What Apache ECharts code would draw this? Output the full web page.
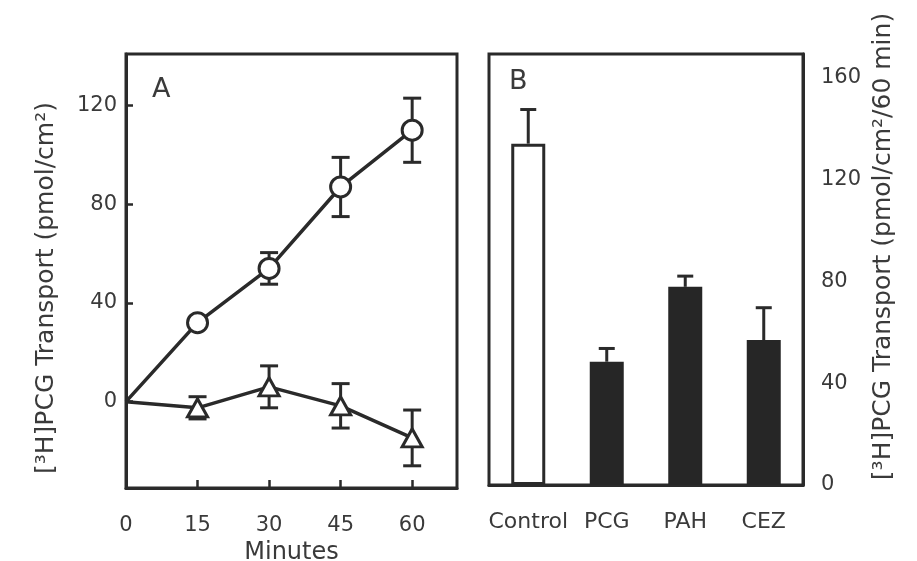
<!DOCTYPE html>
<html>
<head>
<meta charset="utf-8">
<script src="https://cdn.jsdelivr.net/npm/echarts@6/dist/echarts.min.js"></script>
<style>
  html, body { margin: 0; padding: 0; background: #fff; }
  #chart { width: 917px; height: 561px; }
</style>
</head>
<body>
<div id="chart"></div>
<script>
// panel A: time course
const minutes = [0, 15, 30, 45, 60];
const controlMean = [0, 32, 54, 87, 110];
const controlErr = [0, 2, 6.4, 12, 13];
const inhibMean = [0, -2.5, 6, -1.7, -14.7];
const inhibErr = [0, 4.5, 8.5, 9, 11.3];
const aTicksY = [0, 40, 80, 120];
const aTicksX = [0, 15, 30, 45, 60];

// panel B: 60 min transport
const groups = ['Control', 'PCG', 'PAH', 'CEZ'];
const groupMean = [134, 48.4, 77.8, 56.9];
const groupErr = [13.4, 5.2, 4.2, 12.7];

const ink = '#2a2a2a';
const txt = '#3a3a3a';
const font = 'DejaVu Sans';

function lineData(mean) {
  return minutes.map((m, i) => i === 0 ? { value: [m, mean[i]], symbol: 'none' } : [m, mean[i]]);
}
function errData(mean, err) {
  return minutes.map((m, i) => [m, mean[i] - err[i], mean[i] + err[i]]).filter((d, i) => i > 0);
}

function renderErrA(params, api) {
  const x = api.value(0);
  const lo = api.coord([x, api.value(1)]);
  const hi = api.coord([x, api.value(2)]);
  const hw = 9;
  const style = { stroke: ink, lineWidth: 3 };
  return {
    type: 'group',
    children: [
      { type: 'line', shape: { x1: lo[0], y1: lo[1], x2: hi[0], y2: hi[1] }, style: style },
      { type: 'line', shape: { x1: lo[0] - hw, y1: lo[1], x2: lo[0] + hw, y2: lo[1] }, style: style },
      { type: 'line', shape: { x1: hi[0] - hw, y1: hi[1], x2: hi[0] + hw, y2: hi[1] }, style: style }
    ]
  };
}

function renderErrB(params, api) {
  const idx = api.value(0);
  const base = api.coord([idx, api.value(1)]);
  const top = api.coord([idx, api.value(2)]);
  const hw = 8;
  const style = { stroke: ink, lineWidth: 3 };
  return {
    type: 'group',
    children: [
      { type: 'line', shape: { x1: base[0], y1: base[1], x2: top[0], y2: top[1] }, style: style },
      { type: 'line', shape: { x1: top[0] - hw, y1: top[1], x2: top[0] + hw, y2: top[1] }, style: style }
    ]
  };
}

const chart = echarts.init(document.getElementById('chart'));

const option = {
  backgroundColor: '#fff',
  animation: false,
  textStyle: { fontFamily: font, color: txt },
  graphic: [
    { type: 'text', left: 152, top: 76, style: { text: 'A', fontSize: 27, fontFamily: font, fill: txt } },
    { type: 'text', left: 509, top: 68, style: { text: 'B', fontSize: 27, fontFamily: font, fill: txt } }
  ],
  grid: [
    { left: 126, top: 54, width: 331, height: 434, outerBoundsMode: 'none', show: true, borderColor: ink, borderWidth: 3, backgroundColor: 'transparent' },
    { left: 489, top: 54, width: 314, height: 431, outerBoundsMode: 'none', show: true, borderColor: ink, borderWidth: 3, backgroundColor: 'transparent' }
  ],
  xAxis: [
    {
      gridIndex: 0, type: 'value', min: 0, max: 69.4,
      name: 'Minutes', nameLocation: 'middle', nameGap: 50,
      nameTextStyle: { fontSize: 24, fontFamily: font, color: txt },
      axisLine: { onZero: false, lineStyle: { color: ink, width: 3 } },
      axisTick: { inside: true, length: 8, lineStyle: { color: ink, width: 2.5 }, customValues: [15, 30, 45, 60] },
      axisLabel: { margin: 27, fontSize: 21, color: txt, customValues: aTicksX },
      splitLine: { show: false }
    },
    {
      gridIndex: 1, type: 'category', data: groups,
      axisLine: { onZero: false, lineStyle: { color: ink, width: 3 } },
      axisTick: { show: false },
      axisLabel: { margin: 26, fontSize: 22, color: txt, interval: 0 }
    }
  ],
  yAxis: [
    {
      gridIndex: 0, type: 'value', min: -35, max: 140.9,
      name: '[³H]PCG Transport (pmol/cm²)', nameLocation: 'middle', nameGap: 67, nameRotate: 90,
      nameTextStyle: { fontSize: 25, fontFamily: font, color: txt, padding: [0, 34, 0, 0] },
      axisLine: { show: true, onZero: false, lineStyle: { color: ink, width: 3 } },
      axisTick: { inside: true, length: 7, lineStyle: { color: ink, width: 2.5 }, customValues: aTicksY },
      axisLabel: { margin: 9, fontSize: 21, color: txt, customValues: aTicksY },
      splitLine: { show: false }
    },
    {
      gridIndex: 1, type: 'value', position: 'right', min: 0, max: 169.2, interval: 40,
      name: '[³H]PCG Transport (pmol/cm²/60 min)', nameLocation: 'middle', nameGap: 68, nameRotate: 90,
      nameTextStyle: { fontSize: 25, fontFamily: font, color: txt, padding: [0, 0, 0, 46] },
      axisLine: { show: true, onZero: false, lineStyle: { color: ink, width: 3 } },
      axisTick: { inside: true, length: 11, lineStyle: { color: ink, width: 2.5 } },
      axisLabel: { margin: 18, fontSize: 21, color: txt, showMaxLabel: false },
      splitLine: { show: false }
    }
  ],
  series: [
    {
      type: 'custom', xAxisIndex: 0, yAxisIndex: 0, z: 1,
      renderItem: renderErrA, encode: { x: 0, y: [1, 2] },
      data: errData(controlMean, controlErr)
    },
    {
      type: 'custom', xAxisIndex: 0, yAxisIndex: 0, z: 1,
      renderItem: renderErrA, encode: { x: 0, y: [1, 2] },
      data: errData(inhibMean, inhibErr)
    },
    {
      type: 'line', xAxisIndex: 0, yAxisIndex: 0, z: 3,
      data: lineData(controlMean),
      symbol: 'circle', symbolSize: 20, showAllSymbol: true,
      lineStyle: { color: ink, width: 3.5 },
      itemStyle: { color: '#fff', borderColor: ink, borderWidth: 3 }
    },
    {
      type: 'line', xAxisIndex: 0, yAxisIndex: 0, z: 3,
      data: lineData(inhibMean),
      symbol: 'triangle', symbolSize: [20, 18], showAllSymbol: true,
      lineStyle: { color: ink, width: 3.5 },
      itemStyle: { color: '#fff', borderColor: ink, borderWidth: 3 }
    },
    {
      type: 'bar', xAxisIndex: 1, yAxisIndex: 1, barWidth: 34, z: 2,
      data: groupMean.map((v, i) => i === 0
        ? { value: v, itemStyle: { color: '#fff', borderColor: ink, borderWidth: 3 } }
        : { value: v, itemStyle: { color: '#262626' } })
    },
    {
      type: 'custom', xAxisIndex: 1, yAxisIndex: 1, z: 1,
      renderItem: renderErrB, encode: { x: 0, y: [1, 2] },
      data: groups.map((g, i) => [i, groupMean[i], groupMean[i] + groupErr[i]])
    }
  ]
};

chart.setOption(option);
</script>
</body>
</html>
